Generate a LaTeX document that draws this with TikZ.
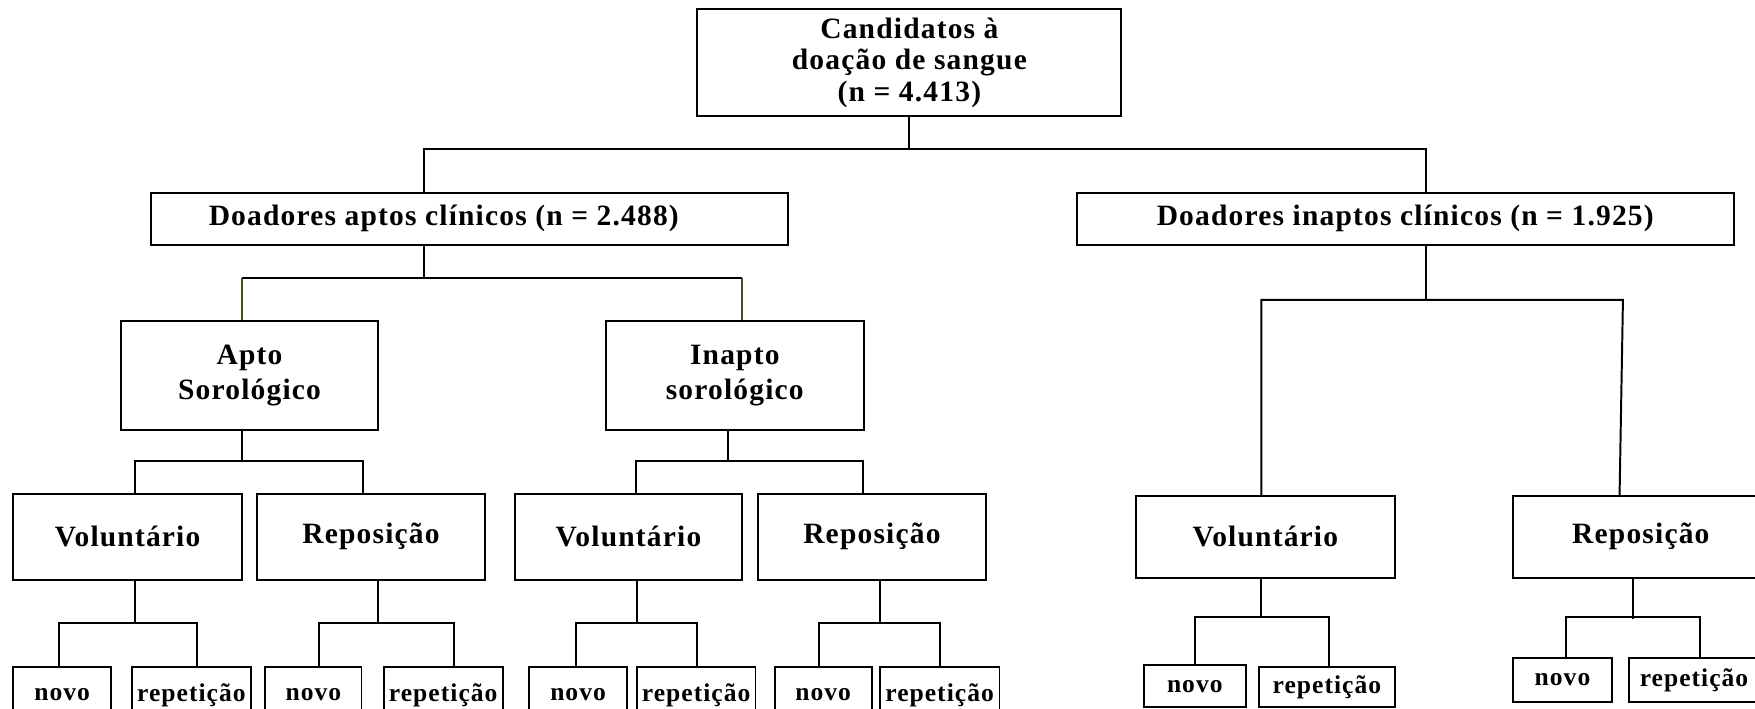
\documentclass[tikz,border=0pt]{standalone}
\usepackage{fontspec}
\setmainfont{Liberation Serif}[LetterSpace=4]
\definecolor{verdeescuro}{RGB}{60,85,20}
\tikzset{
  caixa/.style={draw, line width=1pt, inner sep=0pt, align=center,
    font=\bfseries\fontsize{15}{16}\selectfont},
  caixinha/.style={caixa, font=\bfseries\fontsize{13}{14}\selectfont},
  ramo/.style={line width=1pt},
  ramoverde/.style={line width=0.8pt, draw=verdeescuro}
}
\begin{document}
\begin{tikzpicture}[x=0.02cm, y=-0.02cm]
\useasboundingbox (0,0) rectangle (1568,633);

% nivel 1 e 2
\node[caixa, minimum width=7.58cm, minimum height=1.92cm] (cand) at (812.5,56)
  {Candidatos à\\doação de sangue\\(n = 4.413)};
\node[caixa, minimum width=11.38cm, minimum height=0.94cm] (aptos) at (419.5,195.5)
  {Doadores aptos clínicos (n = 2.488)\hspace*{0.92cm}};
\node[caixa, minimum width=11.74cm, minimum height=0.94cm] (inaptos) at (1255.5,195.5)
  {Doadores inaptos clínicos (n = 1.925)};

% sorologia
\node[caixa, font=\bfseries\fontsize{15}{17.5}\selectfont, minimum width=4.6cm, minimum height=1.94cm] (aptosor) at (223,335.5)
  {Apto\\Sorológico};
\node[caixa, font=\bfseries\fontsize{15}{17.5}\selectfont, minimum width=4.62cm, minimum height=1.94cm] (inaptosor) at (656.5,335.5)
  {Inapto\\sorológico};

% tipo de doador
\node[caixa, minimum width=4.08cm, minimum height=1.54cm] (vol1) at (114,479.5) {Voluntário};
\node[caixa, minimum width=4.06cm, minimum height=1.54cm] (rep1) at (331.5,479.5) {Reposição};
\node[caixa, minimum width=4.06cm, minimum height=1.54cm] (vol2) at (561.5,479.5) {Voluntário};
\node[caixa, minimum width=4.08cm, minimum height=1.54cm] (rep2) at (779,479.5) {Reposição};
\node[caixa, minimum width=4.62cm, minimum height=1.46cm] (vol3) at (1130.5,479.5) {Voluntário};
\node[caixa, minimum width=4.56cm, minimum height=1.46cm] (rep3) at (1466,479.5) {Reposição};

% novo / repeticao
\node[caixinha, minimum width=1.74cm, minimum height=1cm] (n1) at (55.5,621) {novo};
\node[caixinha, minimum width=2.12cm, minimum height=1cm] (r1) at (171,621) {repetição};
\node[caixinha, minimum width=1.72cm, minimum height=1cm] (n2) at (280,621) {novo};
\node[caixinha, minimum width=2.12cm, minimum height=1cm] (r2) at (396,621) {repetição};
\node[caixinha, minimum width=1.74cm, minimum height=1cm] (n3) at (516.5,621) {novo};
\node[caixinha, minimum width=2.12cm, minimum height=1cm] (r3) at (622,621) {repetição};
\node[caixinha, minimum width=1.74cm, minimum height=1cm] (n4) at (735.5,621) {novo};
\node[caixinha, minimum width=2.14cm, minimum height=1cm] (r4) at (839.5,621) {repetição};
\node[caixinha, minimum width=1.82cm, minimum height=0.76cm] (n5) at (1067.5,613) {novo};
\node[caixinha, minimum width=2.42cm, minimum height=0.72cm] (r5) at (1185.5,614) {repetição};
\node[caixinha, minimum width=1.76cm, minimum height=0.78cm] (n6) at (1396,607.5) {novo};
\node[caixinha, minimum width=2.34cm, minimum height=0.78cm] (r6) at (1513.5,607.5) {repetição};

% ligacoes
\draw[ramo] (cand.south) -- (cand.south |- 0,133);
\draw[ramo] (aptos.north -| 379,0) |- (1274,133) -- (inaptos.north -| 1274,0);

\draw[ramo] (aptos.south -| 379,0) -- (379,248);
\draw[ramo] (216,248) -- (663,248);
\draw[ramoverde] (aptosor.north -| 216,0) -- (216,248);
\draw[ramoverde] (inaptosor.north -| 663,0) -- (663,248);

\draw[ramo] (inaptos.south -| 1274,0) -- (1274,268);
\draw[ramo] (vol3.north -| 1127,0) |- (1450,268) -- (rep3.north -| 1447,0);

\draw[ramo] (aptosor.south -| 216,0) -- (216,412);
\draw[ramo] (vol1.north -| 121,0) |- (324,412) -- (rep1.north -| 324,0);
\draw[ramo] (inaptosor.south -| 650,0) -- (650,412);
\draw[ramo] (vol2.north -| 568,0) |- (771,412) -- (rep2.north -| 771,0);

\draw[ramo] (vol1.south -| 121,0) -- (121,557);
\draw[ramo] (n1.north -| 53,0) |- (176,557) -- (r1.north -| 176,0);
\draw[ramo] (rep1.south -| 338,0) -- (338,557);
\draw[ramo] (n2.north -| 285,0) |- (406,557) -- (r2.north -| 406,0);
\draw[ramo] (vol2.south -| 569,0) -- (569,557);
\draw[ramo] (n3.north -| 515,0) |- (623,557) -- (r3.north -| 623,0);
\draw[ramo] (rep2.south -| 786,0) -- (786,557);
\draw[ramo] (n4.north -| 732,0) |- (840,557) -- (r4.north -| 840,0);

\draw[ramo] (vol3.south -| 1127,0) -- (1127,551);
\draw[ramo] (n5.north -| 1068,0) |- (1187,551) -- (r5.north -| 1187,0);
\draw[ramo] (rep3.south -| 1459,0) -- (1459,553);
\draw[ramo] (n6.north -| 1399,0) |- (1519,551) -- (r6.north -| 1519,0);
\end{tikzpicture}
\end{document}
